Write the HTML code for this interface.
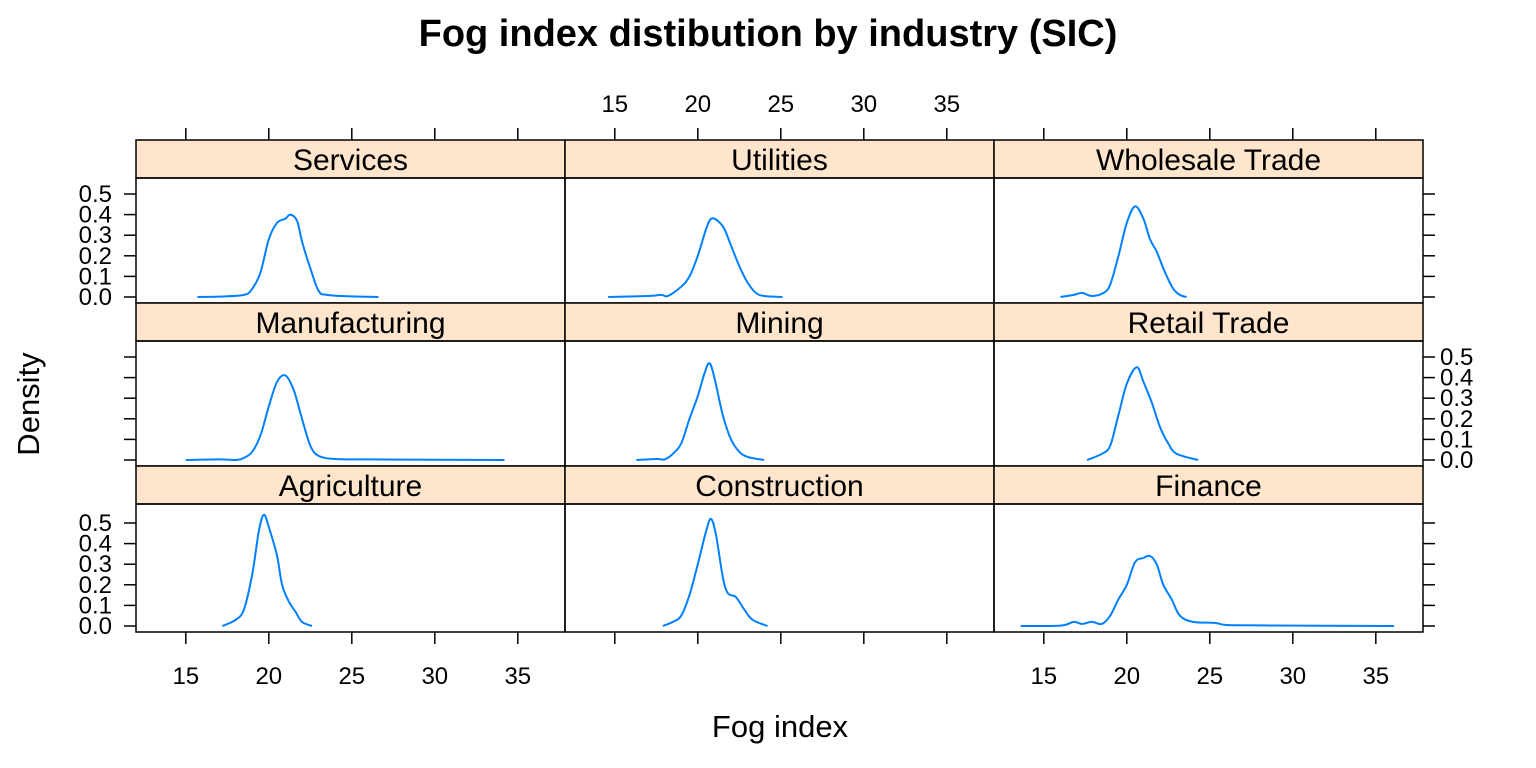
<!DOCTYPE html>
<html><head><meta charset="utf-8"><style>
html,body{margin:0;padding:0;background:#fff}
svg{display:block;font-family:"Liberation Sans",Arial,sans-serif}
</style></head><body>
<svg id="chart" width="1536" height="768" viewBox="0 0 1536 768" xmlns="http://www.w3.org/2000/svg">
<text x="768" y="46" text-anchor="middle" font-size="38" font-weight="bold">Fog index distibution by industry (SIC)</text>
<text x="780" y="737" text-anchor="middle" font-size="31">Fog index</text>
<text transform="translate(39,404) rotate(-90)" text-anchor="middle" font-size="31">Density</text>
<g id="panels"></g>
</svg>
<script>
const panelNames = ["Services","Utilities","Wholesale Trade","Manufacturing","Mining","Retail Trade","Agriculture","Construction","Finance"];
const xTicks = [15,20,25,30,35];
const yTicks = [0,0.1,0.2,0.3,0.4,0.5];
const yTickLabels = ["0.0","0.1","0.2","0.3","0.4","0.5"];
const servicesX = [15.7,17,18.5,19,19.5,20,20.5,21,21.3,21.7,22,22.5,23,23.5,25,26.6];
const servicesY = [0,0.002,0.01,0.04,0.12,0.28,0.36,0.38,0.40,0.37,0.27,0.14,0.03,0.01,0.003,0];
const utilitiesX = [14.6,17,17.8,18.2,19,19.5,20,20.5,20.8,21.2,21.6,22,22.5,23,23.5,24,25.1];
const utilitiesY = [0,0.005,0.01,0.005,0.05,0.1,0.2,0.33,0.38,0.37,0.33,0.25,0.15,0.07,0.02,0.005,0];
const wholesaleX = [16,16.8,17.3,17.9,18.6,19,19.5,20,20.5,21,21.4,21.8,22.3,22.8,23.2,23.6];
const wholesaleY = [0,0.01,0.02,0.005,0.02,0.06,0.2,0.36,0.44,0.38,0.28,0.22,0.12,0.04,0.01,0];
const manufacturingX = [15,17,18,18.5,19,19.5,20,20.5,21,21.5,22,22.5,23,24,26,34.2];
const manufacturingY = [0,0.003,0,0.01,0.04,0.12,0.26,0.38,0.41,0.34,0.2,0.07,0.02,0.005,0.003,0];
const miningX = [16.3,17.5,18,18.5,19,19.5,20,20.4,20.7,21,21.5,22,22.5,23,24];
const miningY = [0,0.005,0.003,0.03,0.08,0.2,0.31,0.42,0.47,0.4,0.22,0.1,0.04,0.015,0];
const retailX = [17.6,18.5,19,19.5,20,20.6,21,21.5,22,22.5,23,24.3];
const retailY = [0,0.03,0.07,0.22,0.37,0.45,0.38,0.28,0.16,0.08,0.03,0];
const agricultureX = [17.2,18,18.5,19,19.4,19.7,20,20.5,20.8,21.2,21.6,22,22.6];
const agricultureY = [0,0.03,0.08,0.25,0.46,0.54,0.48,0.34,0.2,0.12,0.07,0.02,0];
const constructionX = [17.9,18.5,19,19.5,20,20.5,20.8,21.1,21.5,21.8,22.3,22.8,23.3,24.2];
const constructionY = [0,0.02,0.05,0.15,0.3,0.46,0.52,0.44,0.24,0.16,0.14,0.08,0.03,0];
const financeX = [13.6,16,16.8,17.3,17.9,18.5,19,19.5,20,20.5,21,21.4,21.8,22.2,22.7,23.2,24,25.3,26,28,36.1];
const financeY = [0,0.002,0.02,0.01,0.02,0.01,0.05,0.13,0.2,0.31,0.33,0.34,0.3,0.2,0.13,0.05,0.02,0.015,0.005,0.003,0];

const seriesX = [servicesX,utilitiesX,wholesaleX,manufacturingX,miningX,retailX,agricultureX,constructionX,financeX];
const seriesY = [servicesY,utilitiesY,wholesaleY,manufacturingY,miningY,retailY,agricultureY,constructionY,financeY];

const NS="http://www.w3.org/2000/svg";
const g=document.getElementById('panels');
const colL=[136,565,994], colW=429;
const rowTop=[140,303,466], stripH=38, rowB=[303,466,632];
const X0=12.0, XS=16.6, YS=206;
function sx(c,v){return colL[c]+(v-X0)*XS;}
function sy(r,v){return rowB[r]-6-v*YS;}
function mk(tag,attrs,parent){const e=document.createElementNS(NS,tag);for(const k in attrs)e.setAttribute(k,attrs[k]);(parent||g).appendChild(e);return e;}
function smooth(pts){
  let d='M'+pts[0][0].toFixed(1)+' '+pts[0][1].toFixed(1);
  for(let k=0;k<pts.length-1;k++){
    const p0=pts[Math.max(0,k-1)],p1=pts[k],p2=pts[k+1],p3=pts[Math.min(pts.length-1,k+2)];
    const c1x=p1[0]+(p2[0]-p0[0])/6,c1y=p1[1]+(p2[1]-p0[1])/6;
    const c2x=p2[0]-(p3[0]-p1[0])/6,c2y=p2[1]-(p3[1]-p1[1])/6;
    d+='C'+c1x.toFixed(1)+' '+c1y.toFixed(1)+' '+c2x.toFixed(1)+' '+c2y.toFixed(1)+' '+p2[0].toFixed(1)+' '+p2[1].toFixed(1);
  }
  return d;
}

for(let i=0;i<9;i++){
  const r=Math.floor(i/3), c=i%3;
  const strip=mk('rect',{x:colL[c],y:rowTop[r],width:colW,height:stripH,fill:'#ffe5cc',stroke:'#000','stroke-width':1.5});
  
  
  const t=mk('text',{x:colL[c]+colW/2,y:rowTop[r]+30,'text-anchor':'middle','font-size':30});
  t.textContent=panelNames[i];
  
  
  const pr=mk('rect',{x:colL[c],y:rowTop[r]+stripH,width:colW,height:rowB[r]-rowTop[r]-stripH,fill:'none',stroke:'#000','stroke-width':1.5});
  
  
  const xs=seriesX[i], ys=seriesY[i];
  const pts=xs.map((v,k)=>[sx(c,v),sy(r,ys[k])]);
  const p=mk('path',{d:smooth(pts),fill:'none',stroke:'#0080ff','stroke-width':2,'stroke-linejoin':'round'});
  
  
}
for(let c=0;c<3;c++){
  xTicks.forEach(v=>{
    const x=sx(c,v);
    const tt=mk('line',{x1:x,x2:x,y1:128,y2:140,stroke:'#000','stroke-width':1.5});
    
    
    const bt=mk('line',{x1:x,x2:x,y1:632,y2:644,stroke:'#000','stroke-width':1.5});
    
    
    if(c===1){
      const l=mk('text',{x:x,y:112,'text-anchor':'middle','font-size':24});
      l.textContent=v;
      
      
    } else {
      const l=mk('text',{x:x,y:684,'text-anchor':'middle','font-size':24});
      l.textContent=v;
      
      
    }
  });
}
for(let r=0;r<3;r++){
  yTicks.forEach((v,k)=>{
    const y=sy(r,v);
    const lt=mk('line',{x1:124,x2:136,y1:y,y2:y,stroke:'#000','stroke-width':1.5});
    
    
    const rt=mk('line',{x1:1423,x2:1435,y1:y,y2:y,stroke:'#000','stroke-width':1.5});
    
    
    if(r===1){
      const l=mk('text',{x:1440,y:y+8,'text-anchor':'start','font-size':24});
      l.textContent=yTickLabels[k];
      
      
    } else {
      const l=mk('text',{x:112,y:y+8,'text-anchor':'end','font-size':24});
      l.textContent=yTickLabels[k];
      
      
    }
  });
}
</script>
</body></html>
